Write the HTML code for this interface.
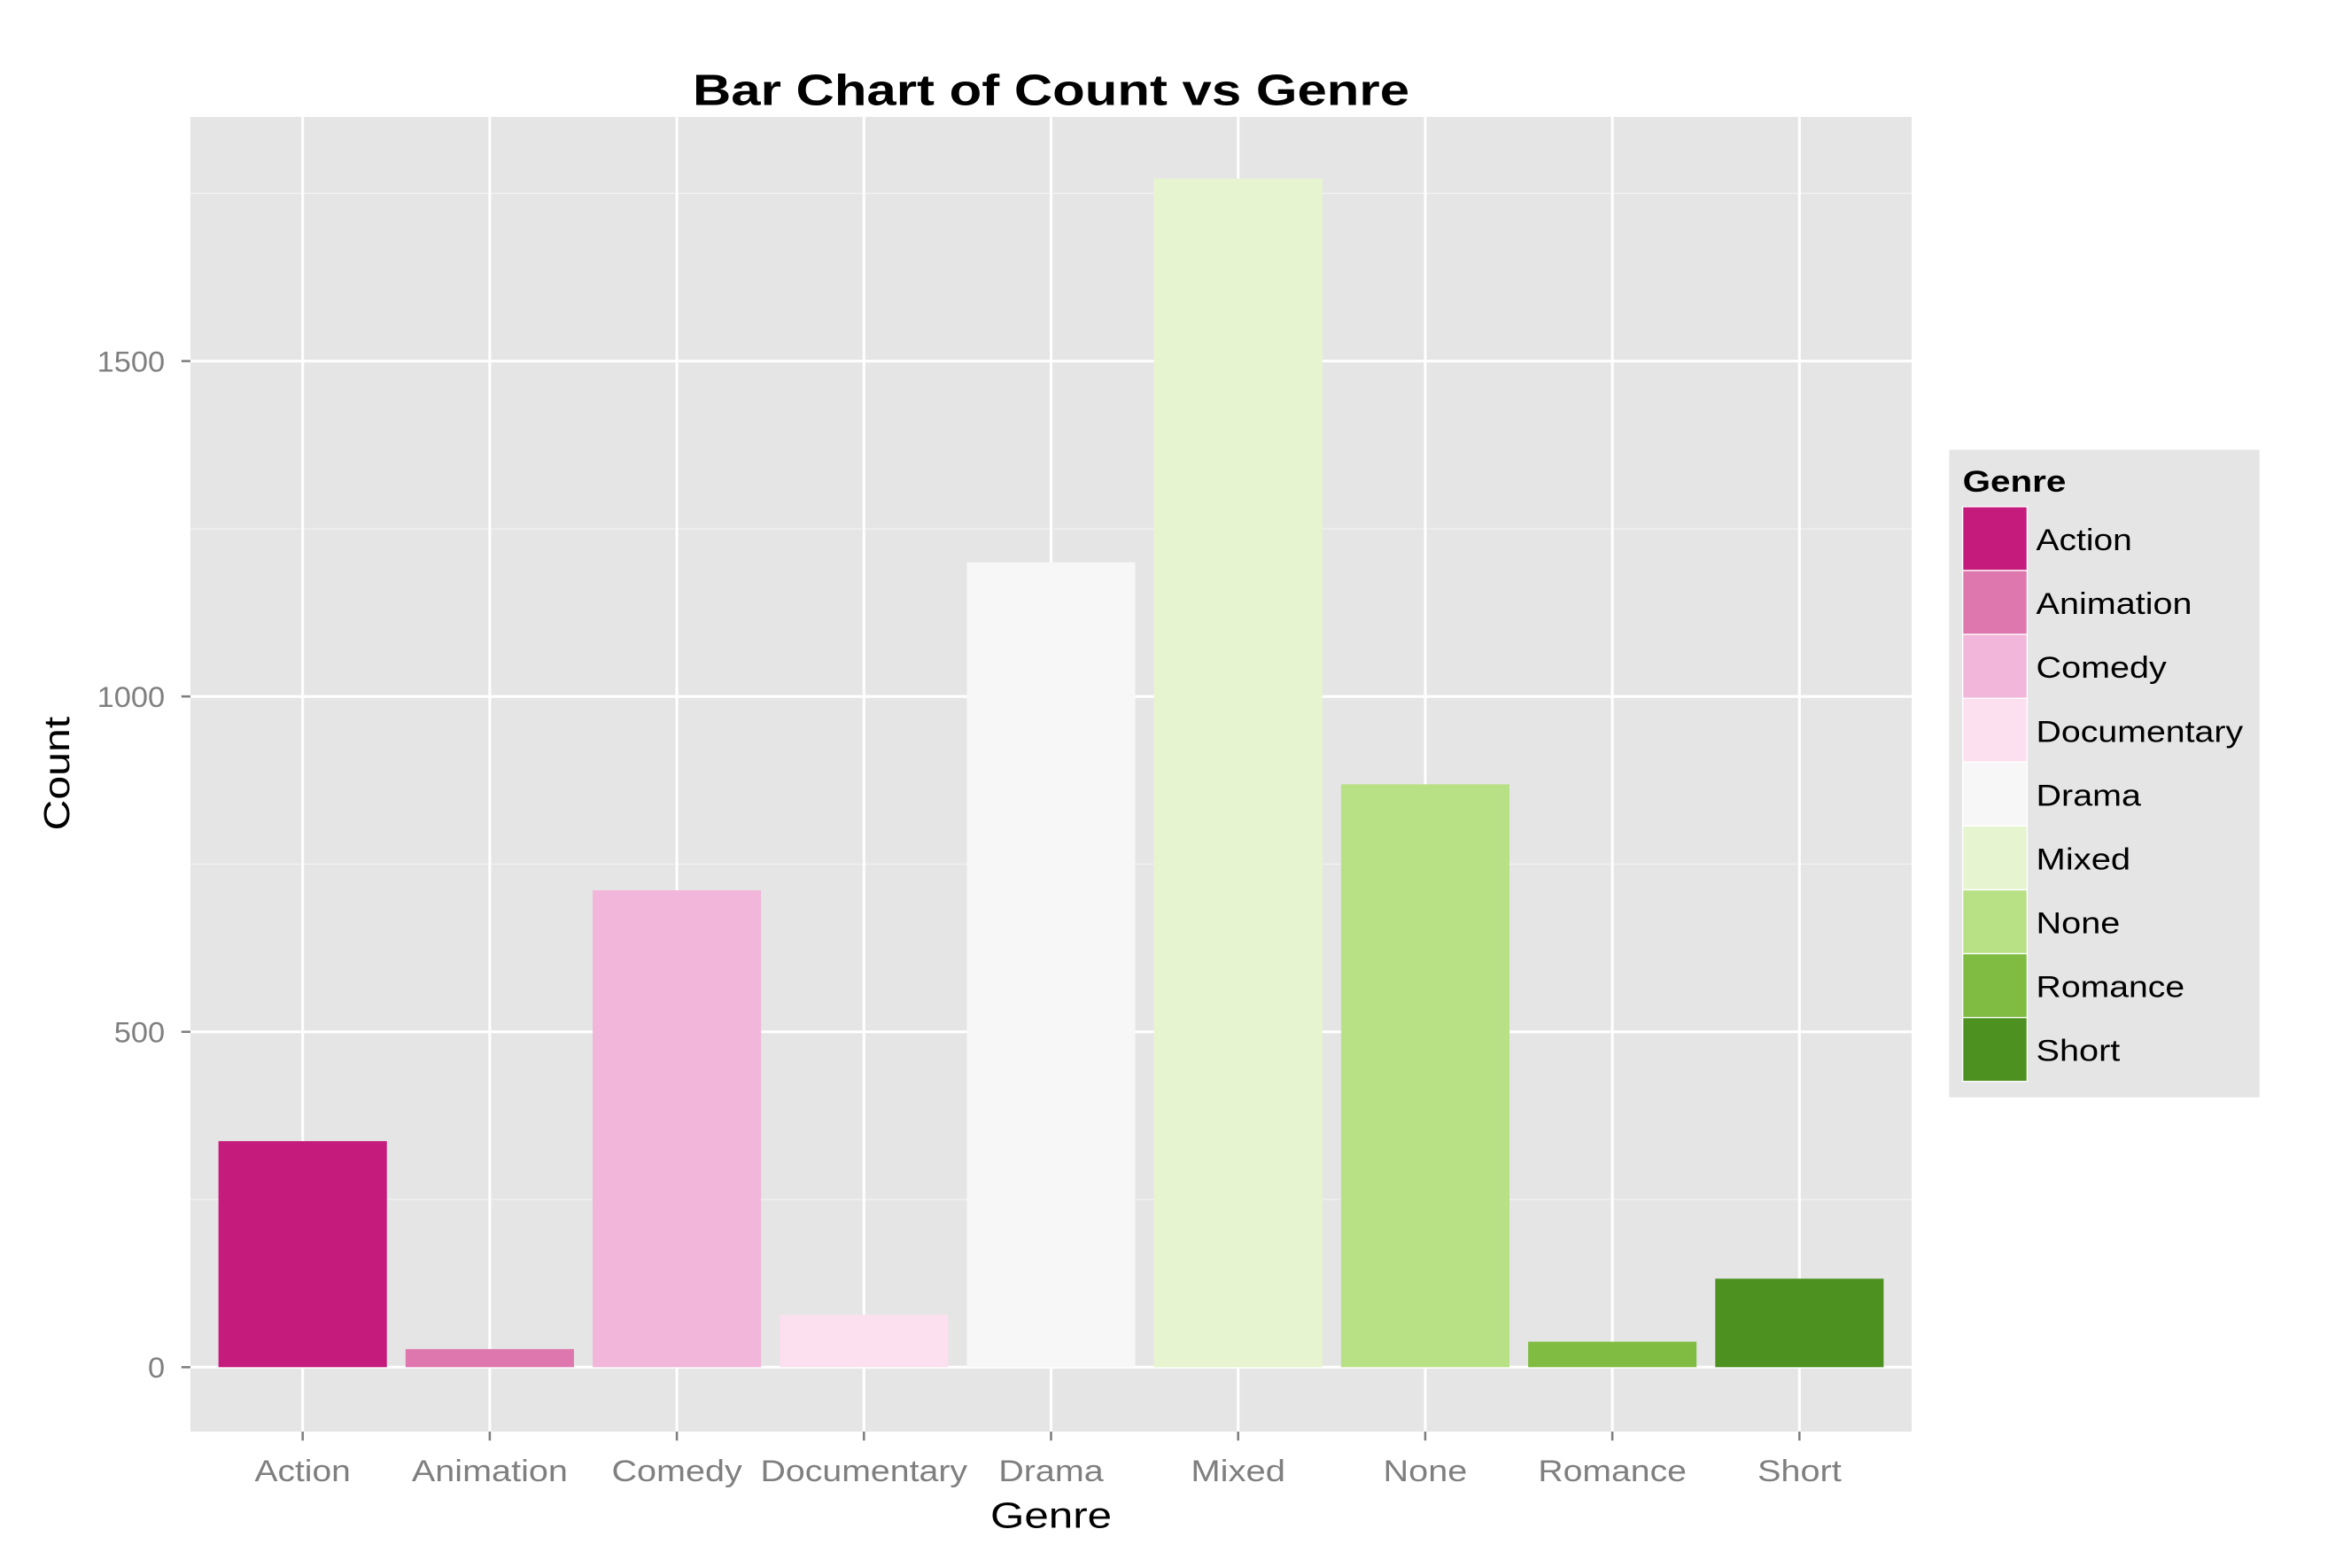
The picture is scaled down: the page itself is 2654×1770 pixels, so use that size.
<!DOCTYPE html>
<html><head><meta charset="utf-8"><style>html,body{margin:0;padding:0;background:#fff}svg{display:block;font-family:"Liberation Sans",sans-serif}</style></head>
<body>
<svg id="chart" width="2654" height="1770" viewBox="0 0 1568 1046" preserveAspectRatio="none" xmlns="http://www.w3.org/2000/svg">
<rect width="1568" height="1046" fill="#fff"/>
<text x="701" y="70" text-anchor="middle" font-size="29" font-weight="bold" fill="#000" textLength="478" lengthAdjust="spacingAndGlyphs">Bar Chart of Count vs Genre</text>
<rect x="127" y="78" width="1148" height="877" fill="#e5e5e5"/>
<g id="grid"></g>
<g id="bars"></g>
<g id="axes"></g>
<text x="701" y="1019" text-anchor="middle" font-size="24" fill="#000" textLength="81" lengthAdjust="spacingAndGlyphs">Genre</text>
<text transform="translate(46,516) rotate(-90)" text-anchor="middle" font-size="24" fill="#000" textLength="76" lengthAdjust="spacingAndGlyphs">Count</text>
<g id="legend">
<rect x="1300" y="300" width="207" height="432" fill="#e5e5e5"/>
<text x="1309" y="328" font-size="20" font-weight="bold" fill="#000" textLength="69" lengthAdjust="spacingAndGlyphs">Genre</text>
</g>
</svg>
<script>
const categories=["Action","Animation","Comedy","Documentary","Drama","Mixed","None","Romance","Short"];
const counts=[337,27,711,78,1200,1772,869,38,132];
const colors=["#c51b7d","#de77ae","#f1b6da","#fde0ef","#f7f7f7","#e6f5d0","#b8e186","#7fbc41","#4d9221"];
const yTicks=[0,500,1000,1500];
const yMinor=[250,750,1250,1750];
const NS="http://www.w3.org/2000/svg";
const px0=127,px1=1275,py0=78,py1=955;
const yMin=-96,yMax=1864;
const textWidthStyle={"Action":64,"Animation":104,"Comedy":87,"Documentary":138,"Drama":70,"Mixed":63,"None":56,"Romance":99,"Short":56};
function y(v){return py1-(v-yMin)/(yMax-yMin)*(py1-py0);}
const step=(px1-px0)/(categories.length+0.2);
function x(i){return px0+step*(0.6+i);}
function mk(tag,attrs,parent){const e=document.createElementNS(NS,tag);for(const k in attrs)e.setAttribute(k,attrs[k]);parent.appendChild(e);return e;}
function tw(s){return textWidthStyle[s]||s.length*9.5;}
const grid=document.getElementById('grid'),bars=document.getElementById('bars'),axes=document.getElementById('axes'),legend=document.getElementById('legend');
yMinor.forEach(v=>{const l=mk('line',{x1:px0,x2:px1,y1:y(v),y2:y(v),stroke:'#f2f2f2','stroke-width':0.8},grid);

});
yTicks.forEach(v=>{const l=mk('line',{x1:px0,x2:px1,y1:y(v),y2:y(v),stroke:'#fff','stroke-width':1.8},grid);


const t=mk('line',{x1:px0-6,x2:px0,y1:y(v),y2:y(v),stroke:'#7f7f7f','stroke-width':1.5},axes);


const s=String(v);
const tx=mk('text',{x:px0-17,y:y(v)+7,'text-anchor':'end','font-size':19,fill:'#7f7f7f',textLength:s.length*11.3,lengthAdjust:'spacingAndGlyphs'},axes);tx.textContent=s;

});
categories.forEach((c,i)=>{const l=mk('line',{x1:x(i),x2:x(i),y1:py0,y2:py1,stroke:'#fff','stroke-width':1.8},grid);


const w=step*0.9,v=counts[i];
const b=mk('rect',{x:x(i)-w/2,y:Math.min(y(v),y(0)),width:w,height:Math.abs(y(0)-y(v)),fill:colors[i]},bars);


const t=mk('line',{x1:x(i),x2:x(i),y1:py1,y2:py1+6,stroke:'#7f7f7f','stroke-width':1.5},axes);


const tx=mk('text',{x:x(i),y:py1+33,'text-anchor':'middle','font-size':20,fill:'#7f7f7f',textLength:tw(c),lengthAdjust:'spacingAndGlyphs'},axes);tx.textContent=c;


const ky=338+i*42.6;
const k=mk('rect',{x:1309,y:ky,width:43,height:42.6,fill:colors[i],stroke:'#fff','stroke-width':0.8},legend);


const lt=mk('text',{x:1358,y:ky+29,'font-size':20,fill:'#000',textLength:tw(c),lengthAdjust:'spacingAndGlyphs'},legend);lt.textContent=c;

});
</script>
</body></html>
